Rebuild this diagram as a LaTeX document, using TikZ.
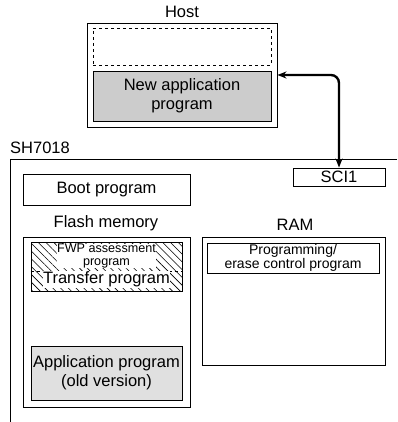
\documentclass[tikz,border=0pt]{standalone}
\usepackage{fontspec}
\setmainfont{Liberation Sans}
\usetikzlibrary{arrows.meta,patterns.meta}

\tikzset{
  box/.style={draw,line width=0.9pt,inner sep=0pt,minimum width=#1},
  small/.style={font=\fontsize{14}{14}\selectfont,align=center},
  tiny/.style={font=\fontsize{12.6}{12.5}\selectfont,align=center}
}

\begin{document}
\begin{tikzpicture}[>={Stealth[length=9pt,width=7pt]},x=1pt,y=-1pt,
    font=\fontsize{16.5}{19}\selectfont]
 \useasboundingbox (0,0) rectangle (397,422);
 % host side
 \begin{scope}
  \node (hostlbl) at (182,12) {Host};
  \node[box=190,minimum height=104] (host) at (182,75) {};
  \node[box=178,minimum height=37,dashed] (spare) at (182,46.5) {};
  \node[box=178,minimum height=50,fill=black!20,align=center] (newapp) at (182,96)
       {New application\\program};
 \end{scope}
 % SH7018 side
 \begin{scope}
  \node[anchor=west,inner sep=0pt] (chiplbl) at (10,148) {SH7018};
  \draw[line width=0.9pt] (397,159) -| (10,422);
  \node[box=92,minimum height=18] (sci) at (339,177) {SCI1};
  \node[box=167,minimum height=31] (boot) at (106.5,189.5) {Boot program};
  \node (flashlbl) at (106,223) {Flash memory};
  \node[box=167,minimum height=170] (flash) at (106.5,322) {};
  \node[box=151,minimum height=49,
        pattern={Lines[angle=-45,distance=5.5pt,line width=0.6pt]}] (fwp) at (106.5,266.5) {};
  \draw[dashed,line width=0.6pt] (fwp.west |- 0,271) -- (fwp.east |- 0,271);
  \node[tiny,fill=white,inner sep=0.5pt] (fwptxt) at (106.5,256) {FWP assessment\\program};
  \node[fill=white,inner sep=0.5pt] (transfer) at (106.5,279.5) {Transfer program};
  \node[box=151,minimum height=54,fill=black!12,align=center] (oldapp) at (106.5,373)
       {Application program\\(old version)};
  \node (ramlbl) at (295,225) {RAM};
  \node[box=183,minimum height=128] (ram) at (293.5,301) {};
  \node[box=172,minimum height=30,small] (erase) at (293,258)
       {Programming/\\erase control program};
 \end{scope}
 \draw[<->,line width=2.4pt,rounded corners=8pt] (host.east) -| (sci.north);
\end{tikzpicture}
\end{document}
